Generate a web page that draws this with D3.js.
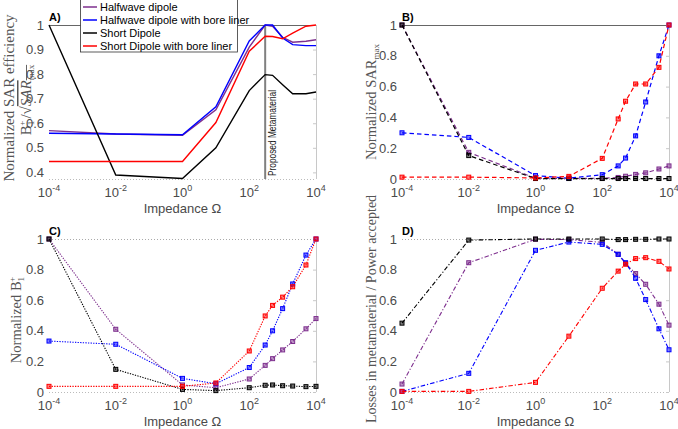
<!DOCTYPE html>
<html>
<head>
<meta charset="utf-8">
<script src="https://cdn.jsdelivr.net/npm/d3@7"></script>
<style>
  body { margin: 0; background: #fff; }
  svg { font-family: "Liberation Sans", Arial, sans-serif; }
</style>
</head>
<body>
<div id="myChart"></div>
<script>
// impedance sweep (Ohm)
const impedance = [1e-4, 1e-2, 1, 10, 100, 300, 500, 1000, 2000, 5000, 1e4];
const seriesNames = ["Halfwave dipole", "Halfwave dipole with bore liner", "Short Dipole", "Short Dipole with bore liner"];
const seriesColors = ["#7E2F8E", "#0000FF", "#000000", "#FF0000"];
const xTickExps = [-4, -2, 0, 2, 4];

// A) normalized SAR efficiency
const effHalf       = [0.570, 0.556, 0.551, 0.655, 0.910, 1.000, 0.995, 0.950, 0.930, 0.934, 0.940];
const effHalfLiner  = [0.559, 0.556, 0.553, 0.667, 0.935, 1.000, 1.000, 0.947, 0.920, 0.916, 0.916];
const effShort      = [1.000, 0.389, 0.375, 0.500, 0.733, 0.798, 0.795, 0.757, 0.720, 0.720, 0.727];
const effShortLiner = [0.444, 0.444, 0.444, 0.603, 0.893, 0.954, 0.953, 0.944, 0.967, 0.995, 1.000];

// B) normalized SAR max
const sarHalf       = [1.000, 0.173, 0.005, 0.004, 0.005, 0.010, 0.018, 0.030, 0.040, 0.065, 0.085];
const sarHalfLiner  = [0.300, 0.270, 0.022, 0.005, 0.028, 0.085, 0.136, 0.280, 0.500, 0.800, 1.000];
const sarShort      = [1.000, 0.152, 0.003, 0.003, 0.003, 0.003, 0.003, 0.003, 0.003, 0.003, 0.003];
const sarShortLiner = [0.012, 0.012, 0.007, 0.017, 0.134, 0.390, 0.505, 0.617, 0.617, 0.725, 1.000];

// C) normalized B1+
const b1Half        = [1.000, 0.410, 0.046, 0.028, 0.085, 0.174, 0.218, 0.275, 0.330, 0.413, 0.480];
const b1HalfLiner   = [0.333, 0.312, 0.089, 0.054, 0.160, 0.307, 0.400, 0.545, 0.706, 0.895, 1.000];
const b1Short       = [1.000, 0.148, 0.017, 0.009, 0.028, 0.044, 0.046, 0.041, 0.039, 0.035, 0.037];
const b1ShortLiner  = [0.037, 0.037, 0.037, 0.059, 0.268, 0.497, 0.566, 0.620, 0.688, 0.830, 1.000];

// D) losses in metamaterial / power accepted
const lossHalf      = [0.052, 0.845, 0.998, 0.996, 0.978, 0.900, 0.840, 0.774, 0.704, 0.574, 0.437];
const lossHalfLiner = [0.004, 0.122, 0.926, 0.980, 0.965, 0.900, 0.845, 0.743, 0.604, 0.413, 0.276];
const lossShort     = [0.450, 0.993, 1.000, 1.000, 1.000, 0.996, 0.996, 0.998, 0.998, 1.000, 1.000];
const lossShortLiner= [0.004, 0.004, 0.063, 0.365, 0.678, 0.790, 0.835, 0.872, 0.878, 0.854, 0.804];

const proposedZ = 300;

const svg = d3.select("#myChart").append("svg")
  .attr("width", 678)
  .attr("height", 429);

const panels = [
  { label: "A)", left: 49, right: 316, top: 25, bottom: 179, yDomain: [0.373, 1],
    yTicks: [0.4, 0.5, 0.6, 0.7, 0.8, 0.9, 1], series: [effHalf, effHalfLiner, effShort, effShortLiner],
    dash: null, markers: false, width: 1.4, topSolid: true },
  { label: "B)", left: 402, right: 669, top: 25, bottom: 179, yDomain: [0, 1],
    yTicks: [0, 0.2, 0.4, 0.6, 0.8, 1], series: [sarHalf, sarHalfLiner, sarShort, sarShortLiner],
    dash: "4.5,3", markers: true, width: 1.2, topSolid: true },
  { label: "C)", left: 49, right: 316, top: 239, bottom: 392, yDomain: [0, 1],
    yTicks: [0, 0.2, 0.4, 0.6, 0.8, 1], series: [b1Half, b1HalfLiner, b1Short, b1ShortLiner],
    dash: "1.3,1.3", markers: true, width: 1.1, topSolid: false },
  { label: "D)", left: 402, right: 669, top: 239, bottom: 392, yDomain: [0, 1],
    yTicks: [0, 0.2, 0.4, 0.6, 0.8, 1], series: [lossHalf, lossHalfLiner, lossShort, lossShortLiner],
    dash: "4.5,2,1.2,2", markers: true, width: 1.1, topSolid: false }
];

panels.forEach((p, pi) => {
  let x = d3.scaleLog().domain([1e-4, 1e4]).range([p.left, p.right]);
  let y = d3.scaleLinear().domain(p.yDomain).range([p.bottom, p.top]);
  let g = svg.append("g");

  // frame bits: bottom dotted, right light spine, top line
  g.append("line").attr("x1", p.left).attr("x2", p.right).attr("y1", p.bottom + 0.5).attr("y2", p.bottom + 0.5)
    .attr("stroke", "#bbb").attr("stroke-dasharray", "1,2");
  g.append("line").attr("x1", p.right + 0.5).attr("x2", p.right + 0.5).attr("y1", p.top).attr("y2", p.bottom)
    .attr("stroke", "#c8c8c8");
  g.append("line").attr("x1", p.left).attr("x2", p.right).attr("y1", p.top + 0.5).attr("y2", p.top + 0.5)
    .attr("stroke", p.topSolid ? "#666" : "#aaa")
    .attr("stroke-dasharray", p.topSolid ? null : "1,2");

  // right-side small ticks
  g.selectAll(null).data(p.yTicks).enter().append("line")
    .attr("x1", p.right - 3).attr("x2", p.right)
    .attr("y1", d => y(d) + 0.5).attr("y2", d => y(d) + 0.5)
    .attr("stroke", "#c8c8c8");

  // y tick labels
  g.selectAll(null).data(p.yTicks).enter().append("text")
    .attr("x", p.left - 5).attr("y", d => y(d) + 4.5)
    .attr("text-anchor", "end").attr("font-size", 13).attr("fill", "#4a4a4a")
    .text(d => d3.format("~g")(d));

  // x tick labels with superscripts
  xTickExps.forEach(e => {
    let t = g.append("text")
      .attr("x", x(Math.pow(10, e))).attr("y", p.bottom + 18)
      .attr("text-anchor", "middle").attr("font-size", 13).attr("fill", "#4a4a4a");
    t.append("tspan").text("10");
    t.append("tspan").attr("font-size", 9).attr("dy", -6).text(e);
  });

  // x title
  g.append("text")
    .attr("x", (p.left + p.right) / 2).attr("y", p.bottom + 34)
    .attr("text-anchor", "middle").attr("font-size", 13).attr("fill", "#4a4a4a")
    .text("Impedance \u03A9");

  // proposed metamaterial marker in panel A
  if (pi === 0) {
    g.append("line").attr("x1", x(proposedZ)).attr("x2", x(proposedZ))
      .attr("y1", p.top).attr("y2", p.bottom)
      .attr("stroke", "#808080").attr("stroke-width", 2);
    g.append("text")
      .attr("transform", "translate(" + (x(proposedZ) + 10.5) + "," + (p.bottom - 3) + ") rotate(-90)")
      .attr("font-size", 10.5).attr("fill", "#222")
      .attr("textLength", 86).attr("lengthAdjust", "spacingAndGlyphs")
      .text("Proposed Metamaterial");
  }

  let line = d3.line().x((d, i) => x(impedance[i])).y(d => y(d));
  p.series.forEach((s, si) => {
    g.append("path").datum(s)
      .attr("d", line)
      .attr("fill", "none")
      .attr("stroke", seriesColors[si])
      .attr("stroke-width", p.width)
      .attr("stroke-dasharray", p.dash);
    if (p.markers) {
      g.selectAll(null).data(s).enter().append("rect")
        .attr("x", (d, i) => x(impedance[i]) - 2)
        .attr("y", d => y(d) - 2)
        .attr("width", 4).attr("height", 4)
        .attr("fill", seriesColors[si]).attr("fill-opacity", 0.5)
        .attr("stroke", seriesColors[si]).attr("stroke-width", 1);
    }
  });

  // panel label
  g.append("text").attr("x", p.left).attr("y", p.top - 4)
    .attr("font-size", 11).attr("font-weight", "bold").attr("fill", "#000")
    .text(p.label);
});

// y axis titles (LaTeX-like serif)
const serif = "'Liberation Serif', 'DejaVu Serif', serif";
function yTitle(cx, cy, size, build) {
  let t = svg.append("text")
    .attr("transform", "translate(" + cx + "," + cy + ") rotate(-90)")
    .attr("text-anchor", "middle")
    .style("font-family", serif)
    .attr("font-size", size).attr("fill", "#555");
  build(t);
  return t;
}
yTitle(14, 98, 15, t => t.text("Normalized SAR efficiency"));
yTitle(31, 100, 15, t => {
  t.append("tspan").text("B");
  t.append("tspan").attr("font-size", 9).attr("dy", 3).text("1");
  t.append("tspan").attr("font-size", 9).attr("dx", -5).attr("dy", -9).text("+");
  t.append("tspan").attr("dx", 2).attr("dy", 6).text("/\u221A");
  t.append("tspan").attr("font-style", "italic").attr("text-decoration", "overline").text("SAR");
  t.append("tspan").attr("font-size", 9).attr("dy", 3).attr("text-decoration", "overline").text("max");
});
yTitle(376, 102, 14.5, t => {
  t.append("tspan").text("Normalized SAR");
  t.append("tspan").attr("font-size", 9).attr("dy", 3).text("max");
});
yTitle(21, 320, 14.5, t => {
  t.append("tspan").text("Normalized B");
  t.append("tspan").attr("font-size", 9).attr("dy", 3).text("1");
  t.append("tspan").attr("font-size", 9).attr("dx", -5).attr("dy", -9).text("+");
});
yTitle(376, 309, 14, t => t.text("Losses in metamaterial / Power accepted"));

// legend
let lg = svg.append("g");
lg.append("rect").attr("x", 80.5).attr("y", -1).attr("width", 157).attr("height", 53)
  .attr("fill", "#fff").attr("stroke", "#333").attr("stroke-width", 0.8);
seriesNames.forEach((n, i) => {
  let yy = 7 + i * 13;
  lg.append("line").attr("x1", 83).attr("x2", 97).attr("y1", yy).attr("y2", yy)
    .attr("stroke", seriesColors[i]).attr("stroke-width", 1.5);
  lg.append("text").attr("x", 100).attr("y", yy + 4).attr("font-size", 11).attr("fill", "#000").text(n);
});
</script>
</body>
</html>
